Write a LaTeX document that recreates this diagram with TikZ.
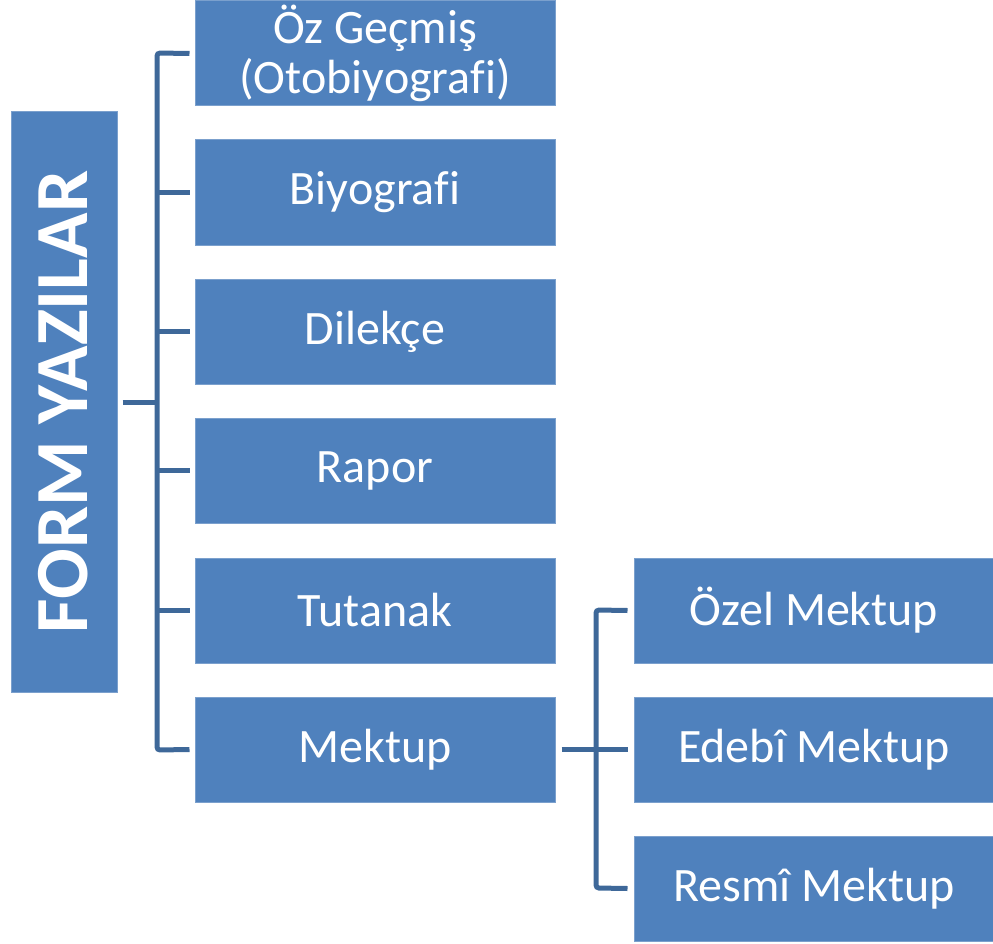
\documentclass[tikz,border=0pt]{standalone}
\usepackage{fontspec}
\setmainfont{Carlito}[Ligatures=CommonOff]
\definecolor{boxfill}{HTML}{4F81BD}
\definecolor{boxedge}{HTML}{7BA0CD}
\definecolor{linecol}{HTML}{3E6899}
\begin{document}
\begin{tikzpicture}[x=1pt,y=-1pt,
  itembox/.style={draw=boxedge,line width=1pt,fill=boxfill,minimum width=360pt,minimum height=105pt,inner sep=0pt,align=center,text=white,font=\fontsize{48}{50}\selectfont},
  subbox/.style={itembox},
  conn/.style={draw=linecol,line width=5pt,rounded corners=3pt}]
\useasboundingbox (0,0) rectangle (993,944);
\clip (0,0) rectangle (993,944);
\node[draw=boxedge,line width=1pt,fill=boxfill,minimum width=106pt,minimum height=580pt,inner sep=0pt] (root) at (64,402) {};
\node[rotate=90,text=white,font=\bfseries\fontsize{75}{80}\selectfont] (roottext) at ([xshift=-1pt]root.center) {FORM YAZILAR};
\node[itembox] (a) at (375,53.5) {Öz Geçmiş\\(Otobiyografi)};
\node[itembox] (b) at (375,192.5) {\raisebox{-2pt}{Biyografi}};
\node[itembox] (c) at (375,331.5) {\raisebox{-2pt}{Dilekçe}};
\node[itembox] (d) at (375,470.5) {\raisebox{-2pt}{Rapor}};
\node[itembox] (e) at (375,610.5) {\raisebox{-2pt}{Tutanak}};
\node[itembox] (f) at (375,749.5) {\raisebox{-2pt}{Mektup}};
\node[subbox] (g) at (814,610.5) {\raisebox{-2pt}{Özel Mektup}};
\node[subbox] (h) at (814,749.5) {\raisebox{-2pt}{Edebî Mektup}};
\node[subbox] (i) at (814,888.5) {\raisebox{-2pt}{Resmî Mektup}};
\coordinate (j1) at (157,402);
\coordinate (j2) at (596,750);
\draw[conn] ([xshift=5pt]root.east) -- (j1);
\draw[conn] ([xshift=-5pt]a.west) -- (157,53) -- (157,750) -- ([xshift=-5pt]f.west);
\foreach \n in {b,c,d,e}{\draw[conn] (j1 |- \n.west) -- ([xshift=-5pt]\n.west);}
\draw[conn] ([xshift=6pt]f.east) -- ([xshift=-6pt]h.west);
\draw[conn] ([xshift=-6pt]g.west) -- (596,610) -- (596,888) -- ([xshift=-6pt]i.west);
\end{tikzpicture}
\end{document}
